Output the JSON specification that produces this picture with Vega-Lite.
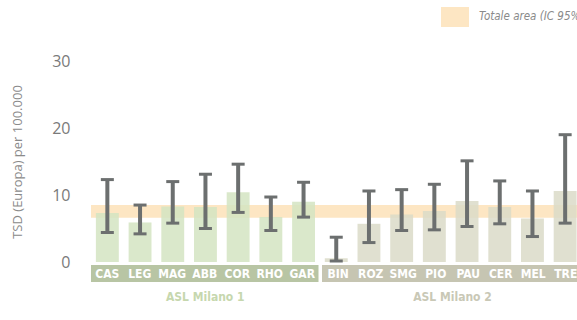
{
  "$schema": "https://vega.github.io/schema/vega-lite/v6.json",
  "padding": {"left": 11, "top": 3, "right": 0, "bottom": 0},
  "background": "white",
  "config": {"view": {"stroke": null}, "font": "Open Sans"},
  "datasets": {
    "units": [
      {"asl": "ASL Milano 1", "code": "CAS", "tsd": 7.3, "lo": 4.4, "hi": 12.3},
      {"asl": "ASL Milano 1", "code": "LEG", "tsd": 5.9, "lo": 4.2, "hi": 8.5},
      {"asl": "ASL Milano 1", "code": "MAG", "tsd": 8.3, "lo": 5.8, "hi": 12.0},
      {"asl": "ASL Milano 1", "code": "ABB", "tsd": 8.2, "lo": 5.0, "hi": 13.1},
      {"asl": "ASL Milano 1", "code": "COR", "tsd": 10.4, "lo": 7.4, "hi": 14.6},
      {"asl": "ASL Milano 1", "code": "RHO", "tsd": 6.7, "lo": 4.7, "hi": 9.7},
      {"asl": "ASL Milano 1", "code": "GAR", "tsd": 9.0, "lo": 6.7, "hi": 11.9},
      {"asl": "ASL Milano 2", "code": "BIN", "tsd": 0.55, "lo": 0.15, "hi": 3.7},
      {"asl": "ASL Milano 2", "code": "ROZ", "tsd": 5.7, "lo": 2.9, "hi": 10.6},
      {"asl": "ASL Milano 2", "code": "SMG", "tsd": 7.1, "lo": 4.7, "hi": 10.8},
      {"asl": "ASL Milano 2", "code": "PIO", "tsd": 7.6, "lo": 4.8, "hi": 11.6},
      {"asl": "ASL Milano 2", "code": "PAU", "tsd": 9.1, "lo": 5.3, "hi": 15.1},
      {"asl": "ASL Milano 2", "code": "CER", "tsd": 8.2, "lo": 5.7, "hi": 12.1},
      {"asl": "ASL Milano 2", "code": "MEL", "tsd": 6.5, "lo": 3.8, "hi": 10.6},
      {"asl": "ASL Milano 2", "code": "TRE", "tsd": 10.6, "lo": 5.8, "hi": 19.0}
    ],
    "area": [
      {"label": "Totale area (IC 95%)", "lo": 6.6, "hi": 8.5}
    ]
  },
  "resolve": {"scale": {"x": "independent"}},
  "bounds": "flush",
  "spacing": 3,
  "vconcat": [
    {
      "width": 490.5,
      "height": 201,
      "layer": [
        {
          "data": {"name": "area"},
          "mark": {"type": "rect", "opacity": 1},
          "encoding": {
            "y": {"field": "lo", "type": "quantitative", "scale": {"domain": [0, 30]},
              "axis": {"values": [0, 10, 20, 30], "grid": false, "domain": false, "ticks": false,
                "labelFontSize": 16, "labelColor": "#7a7a7a", "labelPadding": 21, "labelFont": "Open Sans",
                "title": "TSD (Europa) per 100.000", "titleFont": "Open Sans", "titleFontSize": 13,
                "titleFontWeight": "normal", "titleColor": "#8a8a8a", "titlePadding": 27}},
            "y2": {"field": "hi"},
            "color": {"field": "label", "type": "nominal", "scale": {"range": ["#fde6c3"]},
              "legend": {"orient": "none", "legendX": 350, "legendY": -58, "title": null,
                "symbolType": "M-1,-0.714H1V0.714H-1Z", "symbolSize": 784, "symbolStrokeWidth": 0,
                "symbolOpacity": 1, "labelFont": "DejaVu Sans Condensed", "labelFontStyle": "italic",
                "labelFontSize": 11.5, "labelColor": "#8a8a8a", "labelOffset": 10, "padding": 0}}
          }
        },
        {
          "data": {"name": "units"},
          "transform": [{"filter": "datum.asl === 'ASL Milano 1'"}],
          "mark": {"type": "bar", "color": "#d3e4c2", "opacity": 0.85},
          "encoding": {
            "x": {"field": "code", "type": "nominal", "sort": null, "axis": null,
              "scale": {"domain": ["CAS","LEG","MAG","ABB","COR","RHO","GAR","BIN","ROZ","SMG","PIO","PAU","CER","MEL","TRE"],
                "paddingInner": 0.3, "paddingOuter": 0.15}},
            "y": {"field": "tsd", "type": "quantitative"}
          }
        },
        {
          "data": {"name": "units"},
          "transform": [{"filter": "datum.asl === 'ASL Milano 2'"}],
          "mark": {"type": "bar", "color": "#dbdac8", "opacity": 0.85},
          "encoding": {
            "x": {"field": "code", "type": "nominal", "sort": null, "axis": null},
            "y": {"field": "tsd", "type": "quantitative"}
          }
        },
        {
          "data": {"name": "units"},
          "mark": {"type": "rule", "color": "#6c6f6f", "strokeWidth": 4},
          "encoding": {
            "x": {"field": "code", "type": "nominal", "sort": null, "axis": null},
            "y": {"field": "lo", "type": "quantitative"},
            "y2": {"field": "hi"}
          }
        },
        {
          "data": {"name": "units"},
          "mark": {"type": "tick", "color": "#6c6f6f", "size": 13, "thickness": 3, "opacity": 1},
          "encoding": {
            "x": {"field": "code", "type": "nominal", "sort": null, "axis": null},
            "y": {"field": "lo", "type": "quantitative"}
          }
        },
        {
          "data": {"name": "units"},
          "mark": {"type": "tick", "color": "#6c6f6f", "size": 13, "thickness": 3, "opacity": 1},
          "encoding": {
            "x": {"field": "code", "type": "nominal", "sort": null, "axis": null},
            "y": {"field": "hi", "type": "quantitative"}
          }
        }
      ]
    },
    {
      "spacing": 3,
      "bounds": "flush",
      "resolve": {"scale": {"x": "independent"}},
      "hconcat": [
        {
          "width": 227.5,
          "height": 17,
          "view": {"fill": "#b8c5a4", "stroke": null},
          "data": {"name": "units"},
          "transform": [{"filter": "datum.asl === 'ASL Milano 1'"}],
          "mark": {"type": "text", "color": "white", "font": "DejaVu Sans Condensed", "fontWeight": "bold", "fontSize": 12, "baseline": "middle"},
          "encoding": {
            "x": {"field": "code", "type": "nominal", "sort": null,
              "scale": {"paddingInner": 0.3, "paddingOuter": 0.15},
              "axis": {"labels": false, "ticks": false, "domain": false, "title": "ASL Milano 1",
                "titleColor": "#c6d7ae", "titleFont": "DejaVu Sans Condensed", "titleFontSize": 12,
                "titleFontWeight": "bold", "titlePadding": 9}},
            "text": {"field": "code"}
          }
        },
        {
          "width": 260,
          "height": 17,
          "view": {"fill": "#c6c5b2", "stroke": null},
          "data": {"name": "units"},
          "transform": [{"filter": "datum.asl === 'ASL Milano 2'"}],
          "mark": {"type": "text", "color": "white", "font": "DejaVu Sans Condensed", "fontWeight": "bold", "fontSize": 12, "baseline": "middle"},
          "encoding": {
            "x": {"field": "code", "type": "nominal", "sort": null,
              "scale": {"paddingInner": 0.3, "paddingOuter": 0.15},
              "axis": {"labels": false, "ticks": false, "domain": false, "title": "ASL Milano 2",
                "titleColor": "#c9c8b6", "titleFont": "DejaVu Sans Condensed", "titleFontSize": 12,
                "titleFontWeight": "bold", "titlePadding": 9}},
            "text": {"field": "code"}
          }
        }
      ]
    }
  ]
}
